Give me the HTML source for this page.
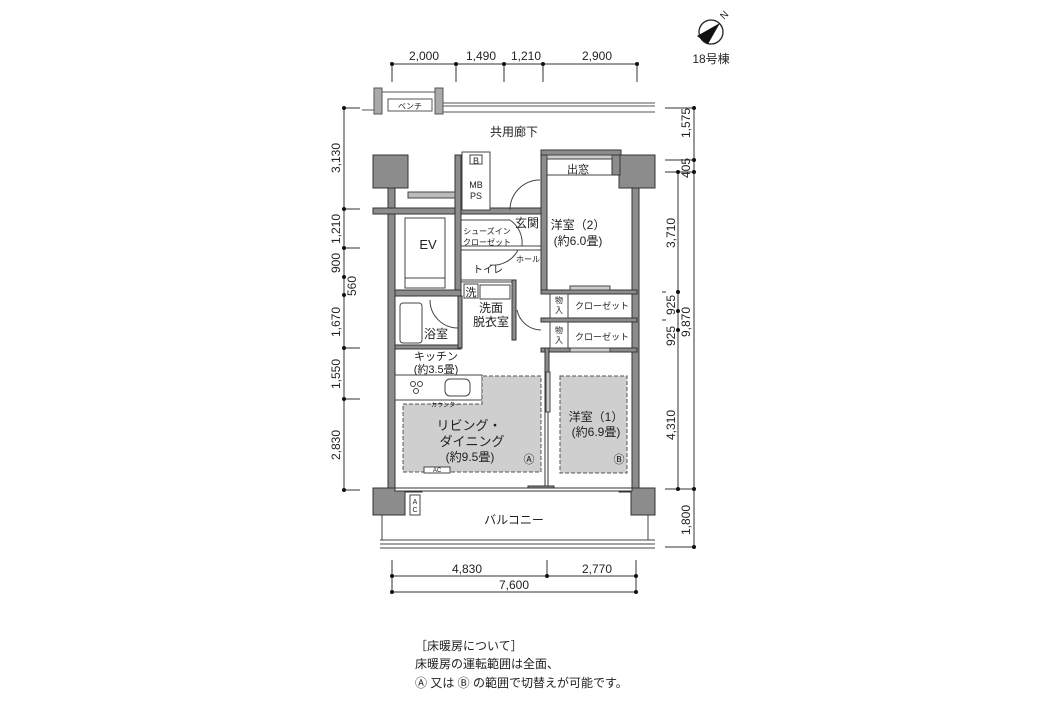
<!DOCTYPE html>
<html><head><meta charset="utf-8"><style>
html,body{margin:0;padding:0;background:#fff;}
svg{display:block;}
text{font-family:"Liberation Sans","Noto Sans CJK JP",sans-serif;fill:#222;}
</style></head><body>
<svg width="1056" height="706" viewBox="0 0 1056 706" xmlns="http://www.w3.org/2000/svg">
<!-- north mark -->
<circle cx="711" cy="32" r="12" fill="none" stroke="#222" stroke-width="1.3"/>
<polygon points="720,23 697,36 708,44" fill="#111"/>
<text x="724" y="20" font-size="10" transform="rotate(-45 724 20)">N</text>
<text x="711" y="63" font-size="12" text-anchor="middle">18号棟</text>

<!-- top dimension -->
<g stroke="#333" stroke-width="1">
<line x1="392" y1="64" x2="637" y2="64"/>
<line x1="392" y1="64" x2="392" y2="82"/><line x1="456" y1="64" x2="456" y2="82"/>
<line x1="504" y1="64" x2="504" y2="82"/><line x1="543" y1="64" x2="543" y2="82"/>
<line x1="637" y1="64" x2="637" y2="82"/>
</g>
<g fill="#111"><circle cx="392" cy="64" r="2"/><circle cx="456" cy="64" r="2"/><circle cx="504" cy="64" r="2"/><circle cx="543" cy="64" r="2"/><circle cx="637" cy="64" r="2"/></g>
<g font-size="12" text-anchor="middle"><text x="424" y="60">2,000</text><text x="481" y="60">1,490</text><text x="526" y="60">1,210</text><text x="597" y="60">2,900</text></g>

<!-- left dimension -->
<g stroke="#333" stroke-width="1"><line x1="344" y1="108" x2="344" y2="490"/>
<line x1="344" y1="108" x2="360" y2="108"/><line x1="344" y1="209" x2="360" y2="209"/><line x1="344" y1="248" x2="360" y2="248"/><line x1="344" y1="348" x2="360" y2="348"/><line x1="344" y1="399" x2="360" y2="399"/><line x1="344" y1="490" x2="360" y2="490"/></g>
<g fill="#111"><circle cx="344" cy="108" r="2"/><circle cx="344" cy="209" r="2"/><circle cx="344" cy="248" r="2"/><circle cx="344" cy="277" r="2"/><circle cx="344" cy="295" r="2"/><circle cx="344" cy="348" r="2"/><circle cx="344" cy="399" r="2"/><circle cx="344" cy="490" r="2"/></g>
<g font-size="12" text-anchor="middle">
<text transform="translate(340,158) rotate(-90)">3,130</text>
<text transform="translate(340,229) rotate(-90)">1,210</text>
<text transform="translate(340,263) rotate(-90)">900</text>
<text transform="translate(356,286) rotate(-90)">560</text>
<text transform="translate(340,322) rotate(-90)">1,670</text>
<text transform="translate(340,374) rotate(-90)">1,550</text>
<text transform="translate(340,445) rotate(-90)">2,830</text>
</g>

<!-- right dimension -->
<g stroke="#333" stroke-width="1">
<line x1="694" y1="108" x2="694" y2="547"/><line x1="678" y1="172" x2="678" y2="489"/>
<line x1="665" y1="108" x2="694" y2="108"/><line x1="665" y1="160" x2="694" y2="160"/><line x1="665" y1="172" x2="694" y2="172"/>
<line x1="662" y1="292" x2="666" y2="292"/><line x1="662" y1="320" x2="666" y2="320"/>
<line x1="665" y1="489" x2="694" y2="489"/><line x1="665" y1="547" x2="694" y2="547"/>
</g>
<g fill="#111"><circle cx="694" cy="108" r="2"/><circle cx="694" cy="160" r="2"/><circle cx="694" cy="172" r="2"/><circle cx="678" cy="172" r="2"/><circle cx="678" cy="292" r="2"/><circle cx="678" cy="311" r="2"/><circle cx="678" cy="330" r="2"/><circle cx="678" cy="489" r="2"/><circle cx="694" cy="489" r="2"/><circle cx="694" cy="547" r="2"/></g>
<g font-size="12" text-anchor="middle">
<text transform="translate(690,123) rotate(-90)">1,575</text>
<text transform="translate(690,168) rotate(-90)">405</text>
<text transform="translate(675,233) rotate(-90)">3,710</text>
<text transform="translate(675,305) rotate(-90)">925</text>
<text transform="translate(675,336) rotate(-90)">925</text>
<text transform="translate(690,322) rotate(-90)">9,870</text>
<text transform="translate(675,425) rotate(-90)">4,310</text>
<text transform="translate(690,520) rotate(-90)">1,800</text>
</g>

<!-- bottom dimension -->
<g stroke="#333" stroke-width="1">
<line x1="392" y1="576" x2="636" y2="576"/><line x1="392" y1="592" x2="636" y2="592"/>
<line x1="392" y1="560" x2="392" y2="592"/><line x1="547" y1="560" x2="547" y2="576"/><line x1="636" y1="560" x2="636" y2="592"/>
</g>
<g fill="#111"><circle cx="392" cy="576" r="2"/><circle cx="547" cy="576" r="2"/><circle cx="636" cy="576" r="2"/><circle cx="392" cy="592" r="2"/><circle cx="636" cy="592" r="2"/></g>
<g font-size="12" text-anchor="middle"><text x="467" y="573">4,830</text><text x="597" y="573">2,770</text><text x="514" y="589">7,600</text></g>

<!-- corridor -->
<g stroke="#555" stroke-width="1" fill="none">
<rect x="374" y="88" width="8" height="26" fill="#aaa"/><rect x="435" y="88" width="8" height="26" fill="#aaa"/>
<line x1="382" y1="92" x2="435" y2="92"/><rect x="388" y="99" width="44" height="12" fill="#fff"/>
<line x1="443" y1="103" x2="655" y2="103"/><line x1="443" y1="106" x2="655" y2="106"/><line x1="443" y1="112" x2="655" y2="112"/>
<line x1="362" y1="110" x2="374" y2="110"/>
</g>
<text x="410" y="109" font-size="8" text-anchor="middle">ベンチ</text>
<text x="514" y="136" font-size="12" text-anchor="middle">共用廊下</text>

<!-- walls -->
<g fill="#8c8c8c" stroke="#333" stroke-width="1">
<rect x="373" y="155" width="35" height="33"/>
<rect x="619" y="155" width="36" height="33"/>
<rect x="388" y="188" width="7" height="300"/>
<rect x="632" y="188" width="7" height="300"/>
<path d="M373,488 H422 V492 H405 V515 H373 Z"/>
<path d="M619,488 H655 V515 H631 V492 H619 Z"/>
<rect x="373" y="208" width="87" height="6"/>
<rect x="455" y="155" width="6" height="141"/>
<rect x="395" y="290" width="66" height="6"/>
<rect x="461" y="208" width="85" height="6"/>
<rect x="541" y="150" width="6" height="143"/>
<rect x="541" y="150" width="80" height="5"/>
<rect x="612" y="155" width="8" height="20"/>
<rect x="395" y="345" width="66" height="4"/>
<rect x="458" y="296" width="4" height="52"/>
<rect x="512" y="280" width="4" height="60"/>
<rect x="541" y="290" width="96" height="4"/>
<rect x="541" y="318" width="96" height="4"/>
<rect x="541" y="348" width="96" height="4"/>
<rect x="545" y="348" width="4" height="60"/>
<rect x="545" y="404" width="3" height="85" fill="#fff"/>
<rect x="528" y="486" width="26" height="5"/>
<rect x="395" y="488" width="237" height="3" fill="#fff"/>
</g>
<!-- thin walls / details -->
<g stroke="#444" stroke-width="1" fill="none">
<rect x="462" y="152" width="28" height="58" fill="#fff"/>
<rect x="470" y="155" width="12" height="9"/>
<rect x="408" y="192" width="47" height="6" fill="#bbb"/>
<rect x="405" y="218" width="40" height="70"/>
<line x1="405" y1="278" x2="445" y2="278"/>
<line x1="461" y1="220" x2="510" y2="220"/>
<line x1="461" y1="246" x2="541" y2="246"/><line x1="461" y1="250" x2="541" y2="250"/>
<line x1="461" y1="280" x2="512" y2="280"/>
<line x1="461" y1="282" x2="512" y2="282"/>
<rect x="464" y="284" width="14" height="14"/><rect x="480" y="285" width="30" height="14"/>
<rect x="400" y="303" width="22" height="40" rx="3"/>
<rect x="395" y="375" width="87" height="25"/>
<circle cx="413" cy="384" r="2.5"/><circle cx="420" cy="384" r="2.5"/><circle cx="416" cy="391" r="2.5"/>
<rect x="445" y="379" width="25" height="17" rx="5"/>
<path d="M510,210 A30,30 0 0 1 540,180"/>
<path d="M510,220 A28,28 0 0 1 522,246"/>
<path d="M490,265 A28,28 0 0 0 518,250"/>
<path d="M517,310 A25,25 0 0 0 541,330"/>
<path d="M430,300 A28,28 0 0 0 458,328"/>
<line x1="547" y1="175" x2="612" y2="175"/>
<rect x="547" y="155" width="65" height="4" fill="#ccc"/>
<rect x="550" y="294" width="18" height="24"/><rect x="550" y="322" width="18" height="26"/>
<rect x="570" y="286" width="40" height="4" fill="#ccc"/><rect x="570" y="348" width="40" height="4" fill="#ccc"/>
<rect x="546" y="372" width="4" height="40" fill="#ccc"/>
<line x1="382" y1="515" x2="382" y2="540"/><line x1="648" y1="515" x2="648" y2="540"/>
<line x1="380" y1="540" x2="655" y2="540"/><line x1="380" y1="544" x2="655" y2="544"/><line x1="380" y1="548" x2="655" y2="548"/>
<rect x="410" y="495" width="10" height="20" fill="#fff"/>
</g>
<!-- shaded zones -->
<g fill="#cfcfcf" stroke="#555" stroke-width="1" stroke-dasharray="4,2">
<path d="M403,404 H482 V376 H541 V472 H403 Z"/>
<rect x="560" y="376" width="67" height="97"/>
</g>
<rect x="424" y="467" width="26" height="6" fill="#fff" stroke="#444"/>
<text x="437" y="472" font-size="6" text-anchor="middle">AC</text>

<!-- labels -->
<g text-anchor="middle">
<text x="476" y="164" font-size="9">B</text>
<text x="476" y="188" font-size="9">MB</text><text x="476" y="199" font-size="9">PS</text>
<text x="578" y="173" font-size="11">出窓</text>
<text x="428" y="249" font-size="13">EV</text>
<text x="527" y="227" font-size="12">玄関</text>
<text x="487" y="234" font-size="8">シューズイン</text>
<text x="487" y="245" font-size="8">クローゼット</text>
<text x="528" y="262" font-size="8">ホール</text>
<text x="488" y="273" font-size="10">トイレ</text>
<text x="471" y="296" font-size="11">洗</text>
<text x="491" y="312" font-size="12">洗面</text><text x="491" y="326" font-size="12">脱衣室</text>
<text x="436" y="338" font-size="12">浴室</text>
<text x="578" y="229" font-size="12">洋室（2）</text><text x="578" y="245" font-size="12">(約6.0畳)</text>
<text x="559" y="303" font-size="8">物</text><text x="559" y="313" font-size="8">入</text>
<text x="559" y="333" font-size="8">物</text><text x="559" y="343" font-size="8">入</text>
<text x="602" y="309" font-size="9">クローゼット</text><text x="602" y="340" font-size="9">クローゼット</text>
<text x="436" y="360" font-size="11">キッチン</text><text x="436" y="373" font-size="11">(約3.5畳)</text>
<text x="446" y="407" font-size="6">カウンター</text>
<text x="469" y="430" font-size="13">リビング・</text>
<text x="472" y="446" font-size="13">ダイニング</text>
<text x="470" y="461" font-size="12">(約9.5畳)</text>
<text x="529" y="463" font-size="11">Ⓐ</text>
<text x="619" y="463" font-size="11">Ⓑ</text>
<text x="596" y="421" font-size="12">洋室（1）</text><text x="596" y="436" font-size="12">(約6.9畳)</text>
<text x="514" y="524" font-size="12">バルコニー</text>
<text x="415" y="504" font-size="7">A</text><text x="415" y="512" font-size="7">C</text>
</g>

<!-- notes -->
<g font-size="12">
<text x="415" y="650">［床暖房について］</text>
<text x="415" y="668">床暖房の運転範囲は全面、</text>
<text x="415" y="687">Ⓐ 又は Ⓑ の範囲で切替えが可能です。</text>
</g>
</svg>
</body></html>
